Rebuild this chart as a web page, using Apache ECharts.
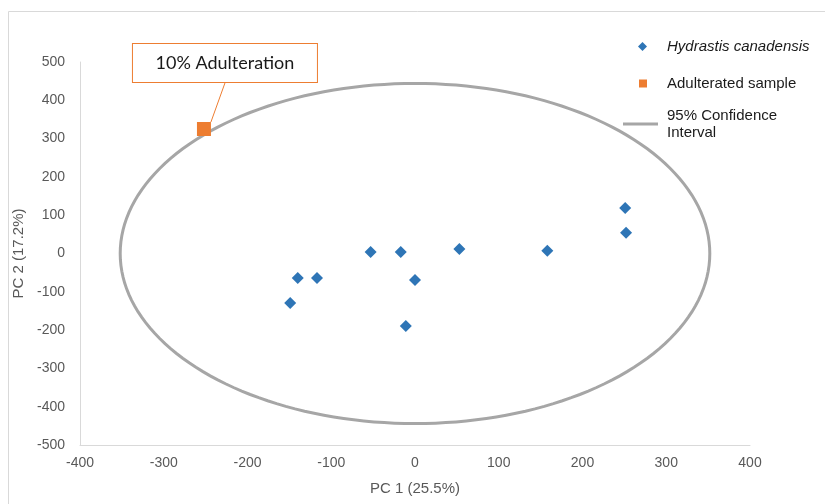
<!DOCTYPE html>
<html>
<head>
<meta charset="utf-8">
<script src="https://cdn.jsdelivr.net/npm/echarts@6/dist/echarts.min.js"></script>
<style>
  html, body { margin: 0; padding: 0; background: #fff; }
  #chart { width: 825px; height: 504px; }
</style>
</head>
<body>
<div id="chart"></div>
<script>
  // 样本点 PC1 / PC2
  const hydrastisX = [-149, -140, -117, -53, -17, 0, -11, 53, 158, 251, 252]
  const hydrastisY = [-129, -64, -64, 4, 4, -69, -189, 12, 7, 119, 54]
  const adulteratedX = [-252]
  const adulteratedY = [325]
  // 95% 置信椭圆: 中心 x, 中心 y, 半轴 x, 半轴 y
  const ellipseParams = [0, 0, 352, 444]

  const xTicks = { min: -400, max: 400, interval: 100 }
  const yTicks = { min: -500, max: 500, interval: 100 }

  const hydrastisData = hydrastisX.map((x, i) => [x, hydrastisY[i]])
  const adulteratedData = adulteratedX.map((x, i) => [x, adulteratedY[i]])

  const textColor = '#595959'
  const axisColor = '#d9d9d9'
  const legendFont = { fontFamily: 'Liberation Sans', fontSize: 15, color: '#1a1a1a' }

  const chart = echarts.init(document.getElementById('chart'))
  chart.setOption({
    animation: false,
    graphic: [{
      type: 'rect',
      shape: { x: 8.5, y: 11.5, width: 830, height: 510 },
      style: { fill: 'none', stroke: axisColor, lineWidth: 1 },
      silent: true
    }],
    grid: { left: 80, right: 75, top: 62, bottom: 59, outerBoundsMode: 'none', containLabel: false },
    legend: [
      {
        left: 633, top: 34, itemWidth: 9, itemHeight: 9,
        icon: 'diamond',
        data: ['Hydrastis canadensis'],
        textStyle: { ...legendFont, fontStyle: 'italic', padding: [0, 0, 0, 15] }
      },
      {
        left: 634, top: 71, itemWidth: 8, itemHeight: 8,
        icon: 'rect',
        data: ['Adulterated sample'],
        textStyle: { ...legendFont, padding: [0, 0, 0, 15] }
      },
      {
        left: 618, top: 102, itemWidth: 35, itemHeight: 3,
        icon: 'rect',
        data: ['95% Confidence Interval'],
        formatter: () => '95% Confidence\nInterval',
        textStyle: { ...legendFont, lineHeight: 17, padding: [0, 0, 0, 4] }
      }
    ],
    xAxis: {
      type: 'value',
      min: xTicks.min, max: xTicks.max, interval: xTicks.interval,
      name: 'PC 1 (25.5%)',
      nameLocation: 'middle',
      nameGap: 36,
      nameTextStyle: { fontFamily: 'Liberation Sans', fontSize: 15, color: textColor },
      axisLine: { onZero: false, lineStyle: { color: axisColor } },
      axisTick: { show: false },
      splitLine: { show: false },
      axisLabel: { fontFamily: 'Liberation Sans', fontSize: 14, color: textColor, margin: 11 }
    },
    yAxis: {
      type: 'value',
      min: yTicks.min, max: yTicks.max, interval: yTicks.interval,
      name: 'PC 2 (17.2%)',
      nameLocation: 'middle',
      nameGap: 54,
      nameTextStyle: { fontFamily: 'Liberation Sans', fontSize: 15, color: textColor },
      axisLine: { show: true, onZero: false, lineStyle: { color: axisColor } },
      axisTick: { show: false },
      splitLine: { show: false },
      axisLabel: { fontFamily: 'Liberation Sans', fontSize: 14, color: textColor, margin: 15 }
    },
    series: [
      {
        name: '95% Confidence Interval',
        type: 'custom',
        itemStyle: { color: '#a6a6a6' },
        data: [ellipseParams],
        encode: { x: 0, y: 1 },
        z: 1,
        renderItem: function(params, api) {
          const c = api.coord([api.value(0), api.value(1)])
          const e = api.coord([api.value(0) + api.value(2), api.value(1) + api.value(3)])
          const rx = e[0] - c[0]
          const ry = c[1] - e[1]
          const pts = []
          for (let i = 0; i < 180; i++) {
            const t = i / 180 * Math.PI * 2
            pts.push([c[0] + rx * Math.cos(t), c[1] + ry * Math.sin(t)])
          }
          return {
            type: 'polygon',
            shape: { points: pts },
            style: { fill: 'none', stroke: '#a6a6a6', lineWidth: 3 }
          }
        }
      },
      {
        name: 'Hydrastis canadensis',
        type: 'scatter',
        symbol: 'diamond',
        symbolSize: 12,
        itemStyle: { color: '#2e75b6', opacity: 1 },
        data: hydrastisData,
        z: 3
      },
      {
        name: 'Adulterated sample',
        type: 'scatter',
        symbol: 'rect',
        symbolSize: 14,
        itemStyle: { color: '#ed7d31', opacity: 1 },
        data: adulteratedData,
        z: 4,
        label: {
          show: true,
          position: 'inside',
          formatter: '10% Adulteration',
          fontFamily: 'Lato',
          fontSize: 18,
          color: '#1a1a1a',
          backgroundColor: '#fff',
          borderColor: '#ed7d31',
          borderWidth: 1,
          width: 154,
          height: 22,
          lineHeight: 22,
          padding: [8, 15, 8, 15]
        },
        labelLayout: { dx: 21, dy: -66 },
        labelLine: { show: true, lineStyle: { color: '#ed7d31', width: 1 } }
      }
    ]
  })
</script>
</body>
</html>
